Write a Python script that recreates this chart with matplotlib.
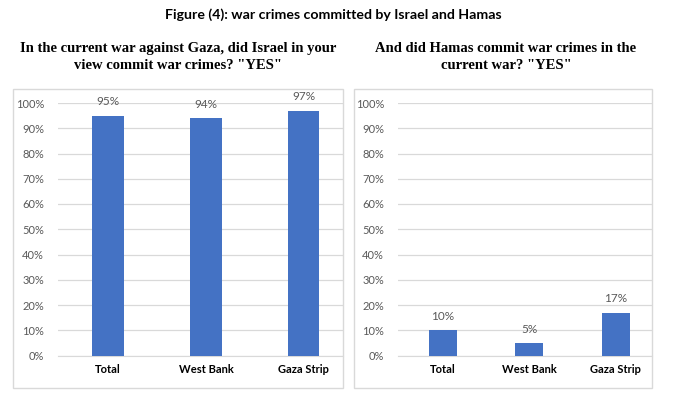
import matplotlib
matplotlib.use("Agg")
import matplotlib.pyplot as plt
from matplotlib.patches import Rectangle
from matplotlib.ticker import PercentFormatter

categories = ["Total", "West Bank", "Gaza Strip"]
israel_yes = [95, 94, 97]
hamas_yes = [10, 5, 17]
yticks = [0, 10, 20, 30, 40, 50, 60, 70, 80, 90, 100]

title_main = "Figure (4): war crimes committed by Israel and Hamas"
title_left = "In the current war against Gaza, did Israel in your\nview commit war crimes? \"YES\""
title_right = "And did Hamas commit war crimes in the\ncurrent war? \"YES\""

W, H = 690, 396
fig = plt.figure(figsize=(W / 100, H / 100), dpi=100)
fig.patch.set_facecolor("white")

bar_color = "#4472C4"
grid_color = "#D9D9D9"
tick_color = "#595959"
sans = ["Lato", "DejaVu Sans"]
serif = ["Liberation Serif", "DejaVu Serif"]


def px_box(x0, x1, y0, y1):
    return [x0 / W, 1 - y1 / H, (x1 - x0) / W, (y1 - y0) / H]


def frame(x0, x1, y0, y1):
    r = Rectangle((x0 / W, 1 - y1 / H), (x1 - x0) / W, (y1 - y0) / H,
                  transform=fig.transFigure, fill=False, edgecolor=grid_color, lw=1.0)
    fig.add_artist(r)


def panel(rect, vals, xlim):
    ax = fig.add_axes(rect)
    x = list(range(len(categories)))
    ax.bar(x, vals, width=0.32, color=bar_color, zorder=3)
    ax.set_xlim(*xlim)
    ax.set_ylim(0, 100)
    ax.set_yticks(yticks)
    ax.yaxis.set_major_formatter(PercentFormatter(decimals=0))
    ax.set_xticks(x)
    ax.set_xticklabels(categories, fontfamily=sans, fontweight="bold", fontsize=8, color="black")
    for lbl in ax.get_yticklabels():
        lbl.set_fontfamily(sans)
    ax.tick_params(axis="y", length=0, labelsize=8, labelcolor=tick_color, pad=10)
    ax.tick_params(axis="x", length=0, pad=6)
    ax.grid(axis="y", color=grid_color, lw=0.9, zorder=0)
    for s in ["top", "right", "left"]:
        ax.spines[s].set_visible(False)
    ax.spines["bottom"].set_color(grid_color)
    ax.set_facecolor("none")
    for xi, v in zip(x, vals):
        ax.annotate(f"{v}%", (xi, v), xytext=(0, 6), textcoords="offset points",
                    ha="center", va="bottom", fontsize=8.5, color=tick_color,
                    fontfamily=sans, annotation_clip=False)
    return ax


frame(13, 343, 89, 388)
frame(354, 652, 89, 388)

panel(px_box(58, 343, 103, 355.5), israel_yes, (-0.51, 2.40))
panel(px_box(398, 652, 103, 355.5), hamas_yes, (-0.52, 2.42))

fig.text(333 / W, 1 - 15 / H, title_main, ha="center", va="center",
         fontsize=10.2, fontweight="bold", fontfamily=sans)
fig.text(178 / W, 1 - 57 / H, title_left, ha="center", va="center",
         fontsize=10.5, fontweight="bold", fontfamily=serif, linespacing=1.45)
fig.text(506 / W, 1 - 57 / H, title_right, ha="center", va="center",
         fontsize=10.5, fontweight="bold", fontfamily=serif, linespacing=1.45)

fig.savefig("out.png", dpi=100, facecolor="white")
